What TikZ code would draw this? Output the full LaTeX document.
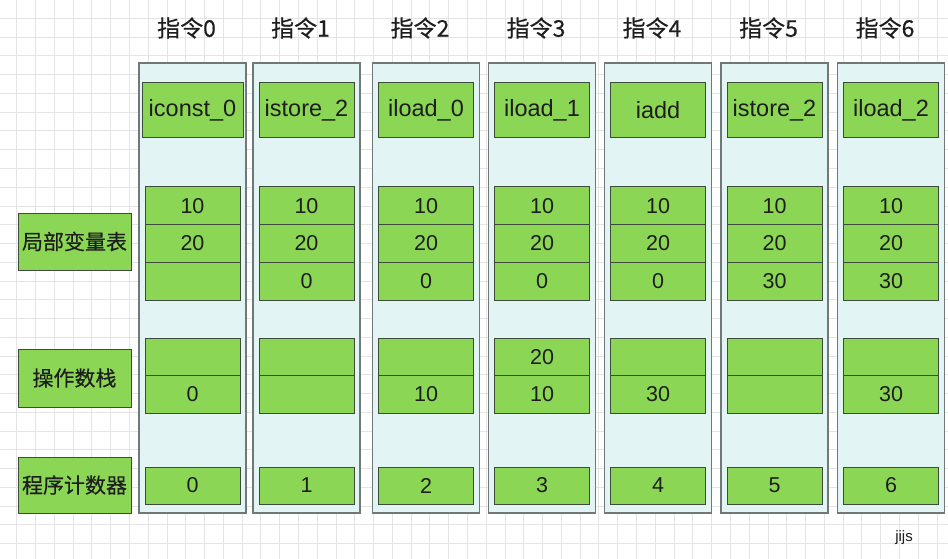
\documentclass[tikz,border=0pt]{standalone}
\usepackage{fontspec}
\setmainfont{Liberation Sans}
\newfontfamily\cjk{Noto Sans CJK SC}
\newfontfamily\cjkh[FakeBold=0.35]{Noto Sans CJK SC}
\definecolor{gridc}{HTML}{E4E4E4}
\definecolor{cellg}{HTML}{8CD655}
\definecolor{celld}{HTML}{3E4A3A}
\definecolor{colf}{HTML}{E3F4F4}
\definecolor{cold}{HTML}{707878}
\definecolor{txt}{HTML}{1E1E1E}
\begin{document}
\begin{tikzpicture}[x=1pt,y=-1pt,
  colbox/.style={draw=cold, fill=colf, line width=1.2pt, minimum width=107pt, minimum height=450pt, inner sep=0pt},
  cell/.style={draw=celld, fill=cellg, line width=1pt, minimum width=95pt, minimum height=37.7pt, inner sep=0pt, font=\fontsize{21.5}{21.5}\selectfont, text=txt},
  inst/.style={cell, minimum height=55pt, font=\fontsize{23.5}{23.5}\selectfont},
  side/.style={cell, minimum width=113pt, font=\cjkh\fontsize{21}{21}\selectfont},
  head/.style={font=\cjkh\fontsize{23}{23}\selectfont, text=txt, inner sep=0pt},
  sign/.style={font=\fontsize{15}{15}\selectfont, text=txt, inner sep=0pt}]
\fill[white] (0,0) rectangle (948,559);
\useasboundingbox (0,0) rectangle (948,559);
% grid
\foreach \i in {0,...,49} \draw[gridc, line width=0.8pt] ({16.7+\i*18.78},0) -- ++(0,559);
\foreach \j in {0,...,28} \draw[gridc, line width=0.8pt] (0,{18.3+\j*18.76}) -- ++(948,0);
% side labels
\node[side, minimum height=57pt] (lvt) at (74.5,241.5) {局部变量表};
\node[side, minimum height=58pt] (ops) at (74.5,378) {操作数栈};
\node[side, minimum height=56pt] (pcl) at (74.5,485) {程序计数器};
% columns
\foreach \n/\cx/\iw/\ins/\la/\lb/\lc/\sa/\sb/\pc in {
  0/192.5/101/iconst\_0/10/20/{}/{}/0/0,
  1/306.5/95/istore\_2/10/20/0/{}/{}/1,
  2/426/95/iload\_0/10/20/0/{}/10/2,
  3/542/95/iload\_1/10/20/0/20/10/3,
  4/658/95/iadd/10/20/0/{}/30/4,
  5/774.5/95/istore\_2/10/20/30/{}/{}/5,
  6/891/95/iload\_2/10/20/30/{}/30/6}{
  \node[head] (h\n) at (\cx-6,28) {指令\n};
  \node[colbox] (c\n) at (\cx,288) {};
  \node[inst, minimum width=\iw pt] (i\n) at (\cx,110.5) {\ins};
  \node[cell] (la\n) at (\cx,205.8) {\la};
  \node[cell] (lb\n) at (\cx,243.5) {\lb};
  \node[cell] (lc\n) at (\cx,281.2) {\lc};
  \node[cell, minimum height=37.5pt] (sa\n) at (\cx,356.8) {\sa};
  \node[cell, minimum height=37.5pt] (sb\n) at (\cx,394.3) {\sb};
  \node[cell, minimum height=37pt] (p\n) at (\cx,485.5) {\pc};
}
\node[sign] (sig) at (904,538) {jijs};
\end{tikzpicture}
\end{document}
